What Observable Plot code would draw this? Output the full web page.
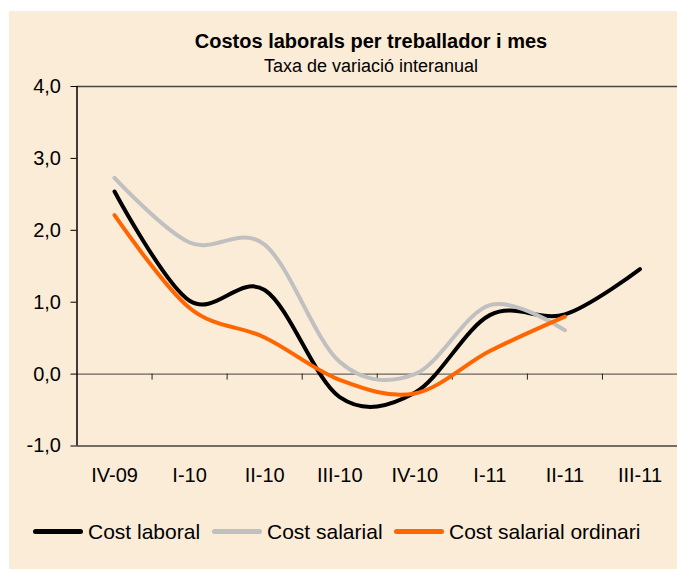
<!DOCTYPE html>
<html>
<head>
<meta charset="utf-8">
<script src="https://cdn.jsdelivr.net/npm/d3@7"></script>
<script src="https://cdn.jsdelivr.net/npm/@observablehq/plot@0.6"></script>
<style>
  html, body { margin: 0; padding: 0; background: #ffffff; width: 677px; height: 570px; overflow: hidden; }
  #wrap { position: relative; width: 677px; height: 570px; font-family: "Liberation Sans", Arial, sans-serif; color: #000; }
  #panel { position: absolute; left: 9px; top: 11px; width: 668px; height: 558px; background: #FBECD8; }
  #chart { position: absolute; left: 0; top: 0; }
  .title { position: absolute; left: 371px; transform: translateX(-50%); white-space: nowrap; line-height: 1; }
  #t1 { top: 31px; font-size: 20px; font-weight: bold; }
  #t2 { top: 57px; font-size: 18px; }
  .leg { position: absolute; top: 521px; display: flex; align-items: center; font-size: 21px; line-height: 1; white-space: nowrap; }
  .sw { display: inline-block; width: 50px; height: 5px; border-radius: 3px; margin-right: 5px; }
</style>
</head>
<body>
<div id="wrap">
  <div id="panel"></div>
  <div id="chart"></div>
  <div class="title" id="t1">Costos laborals per treballador i mes</div>
  <div class="title" id="t2">Taxa de variació interanual</div>
  <div id="legend"></div>
</div>
<script>
const categories = ["IV-09", "I-10", "II-10", "III-10", "IV-10", "I-11", "II-11", "III-11"];
const costLaboral = [2.54, 1.02, 1.17, -0.32, -0.26, 0.82, 0.83, 1.46];
const costSalarial = [2.73, 1.83, 1.80, 0.17, 0.0, 0.96, 0.61];
const costSalarialOrdinari = [2.21, 0.92, 0.51, -0.08, -0.27, 0.32, 0.80];
const seriesNames = ["Cost laboral", "Cost salarial", "Cost salarial ordinari"];
const seriesColors = ["#000000", "#C0C0C0", "#FF6600"];
const yTicks = [-1, 0, 1, 2, 3, 4];

const seriesValues = [costLaboral, costSalarial, costSalarialOrdinari];
const data = [];
seriesValues.forEach((vals, s) => vals.forEach((v, i) => data.push({ series: seriesNames[s], i, cat: categories[i], value: v })));
const boundaries = categories.map((c, i) => i + 0.5);

const fmt = v => v.toFixed(1).replace(".", ",");

const chart = Plot.plot({
  width: 677,
  height: 500,
  marginTop: 86,
  marginBottom: 54.5,
  marginLeft: 76.5,
  marginRight: 0,
  style: { background: "transparent", fontFamily: "Liberation Sans, Arial, sans-serif", overflow: "visible", color: "#000" },
  x: { domain: [-0.5, categories.length - 0.5], label: null },
  y: { domain: [yTicks[0], yTicks[yTicks.length - 1]], label: null },
  color: { domain: seriesNames, range: seriesColors },
  marks: [
    Plot.ruleY([yTicks[yTicks.length - 1], yTicks[0]], { stroke: "#4a4440", strokeWidth: 1.5 }),
    Plot.ruleY([0], { stroke: "#6b625c", strokeWidth: 1.3 }),
    Plot.ruleX(boundaries, { y1: 0, y2: 0, insetTop: 0, insetBottom: -6, stroke: "#222", strokeWidth: 1 }),
    Plot.axisY({ ticks: yTicks, tickFormat: fmt, tickSize: 6, tickPadding: 10, fontSize: 20, stroke: "#000", label: null }),
    Plot.ruleX([-0.5], { stroke: "#000", strokeWidth: 1.5 }),
    Plot.axisX({ ticks: categories.map((c, i) => i), tickFormat: i => categories[i], tickSize: 0, tickPadding: 22, fontSize: 20, label: null }),
    Plot.line(data, { x: "i", y: "value", z: "series", stroke: "series", strokeWidth: 4, curve: "cardinal", strokeLinecap: "round", strokeLinejoin: "round" })
  ]
});
document.getElementById("chart").appendChild(chart);

const legendLefts = [33, 212, 394];
const legend = document.getElementById("legend");
seriesNames.forEach((name, s) => {
  const item = document.createElement("div");
  item.className = "leg";
  item.style.left = legendLefts[s] + "px";
  const sw = document.createElement("span");
  sw.className = "sw";
  sw.style.background = seriesColors[s];
  item.appendChild(sw);
  item.appendChild(document.createTextNode(name));
  legend.appendChild(item);
});
</script>
</body>
</html>
